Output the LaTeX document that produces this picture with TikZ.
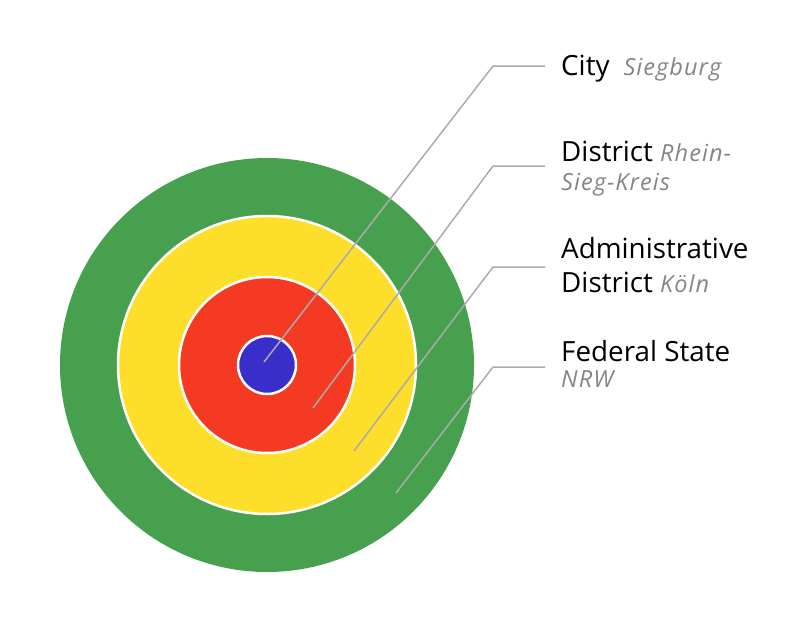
\documentclass[tikz,border=0pt]{standalone}
\usepackage{fontspec}
\setmainfont{Open Sans}
\newfontfamily\subfont[LetterSpace=4.5]{Open Sans}
\definecolor{ringgreen}{HTML}{46A04E}
\definecolor{ringyellow}{HTML}{FDDE2A}
\definecolor{ringred}{HTML}{F43A22}
\definecolor{ringblue}{HTML}{3A2ECB}
\definecolor{leadergray}{HTML}{ABABAB}
\definecolor{subgray}{HTML}{858585}
\newcommand{\subtxt}[1]{{\subfont\fontsize{23.5}{26}\selectfont\itshape\color{subgray}#1}}
\begin{document}
\begin{tikzpicture}[x=1pt,y=-1pt,
  ring/.style={circle,draw=white,line width=2.5pt,inner sep=0pt},
  leader/.style={draw=leadergray,line width=1.5pt},
  lbl/.style={anchor=base west,inner sep=0pt,font=\fontsize{27.8}{30}\selectfont}]
\useasboundingbox (0,0) rectangle (811,627);
\node[ring,draw=none,fill=ringgreen,minimum size=414pt] (state) at (267,365) {};
\node[ring,fill=ringyellow,minimum size=298pt] (admin) at (267,365) {};
\node[ring,fill=ringred,minimum size=176pt] (district) at (267,365) {};
\node[ring,fill=ringblue,minimum size=58pt] (city) at (267,365) {};
% leader points
\coordinate (cityend) at (264,362);
\coordinate (cityknee) at (493,66);
\coordinate (citytip) at (545,66);
\coordinate (distend) at (313,408);
\coordinate (distknee) at (493,166);
\coordinate (disttip) at (545,166);
\coordinate (adminend) at (354,451);
\coordinate (adminknee) at (493,267);
\coordinate (admintip) at (545,267);
\coordinate (stateend) at (396,493);
\coordinate (stateknee) at (493,367);
\coordinate (statetip) at (545,367);
\draw[leader] (cityend) -- (cityknee) -- (citytip);
\draw[leader] (distend) -- (distknee) -- (disttip);
\draw[leader] (adminend) -- (adminknee) -- (admintip);
\draw[leader] (stateend) -- (stateknee) -- (statetip);
% labels
\node[lbl] (citylbl) at (561,75) {City\hspace{14pt}\subtxt{Siegburg}};
\node[lbl] (distlbl) at (561,161) {District \subtxt{Rhein-}};
\node[lbl] (distlbl2) at (561,190) {\subtxt{Sieg-Kreis}};
\node[lbl] (adminlbl) at (561,258) {Administrative};
\node[lbl] (adminlbl2) at (561,292) {District \subtxt{Köln}};
\node[lbl] (statelbl) at (561,361) {Federal State};
\node[lbl] (statelbl2) at (561,387) {\subtxt{NRW}};
\end{tikzpicture}
\end{document}
